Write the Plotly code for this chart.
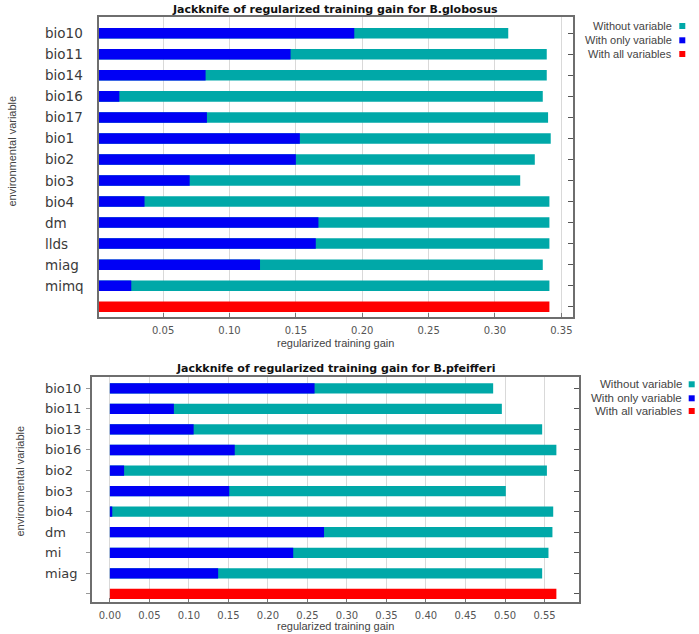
import plotly.graph_objects as go

# ---------------- data ----------------
top_vars = ['bio10', 'bio11', 'bio14', 'bio16', 'bio17', 'bio1', 'bio2',
            'bio3', 'bio4', 'dm', 'llds', 'miag', 'mimq']
top_without = [0.310, 0.339, 0.339, 0.336, 0.340, 0.342, 0.330,
               0.319, 0.341, 0.341, 0.341, 0.336, 0.341]
top_only = [0.194, 0.146, 0.082, 0.017, 0.083, 0.153, 0.150,
            0.070, 0.036, 0.167, 0.165, 0.123, 0.026]
top_all = 0.341

bot_vars = ['bio10', 'bio11', 'bio13', 'bio16', 'bio2', 'bio3', 'bio4',
            'dm', 'mi', 'miag']
bot_without = [0.485, 0.496, 0.547, 0.565, 0.553, 0.501, 0.561, 0.560, 0.555, 0.547]
bot_only = [0.259, 0.081, 0.106, 0.158, 0.018, 0.151, 0.003, 0.271, 0.232, 0.137]
bot_all = 0.565

series_names = ['Without variable', 'With only variable', 'With all variables']
series_colors = ['#00A8A8', '#0000F5', '#FF0000']

top_title = 'Jackknife of regularized training gain for B.globosus'
bot_title = 'Jackknife of regularized training gain for B.pfeifferi'
x_title = 'regularized training gain'
y_title = 'environmental variable'

W, H = 699, 634
ALL = ' '  # label-less category for "all variables" bar

def px(x):
    return x / W

def py(y):
    return 1 - y / H

fig = go.Figure()

def add_chart(vars_, without, only, allv, xa, ya):
    cats = vars_ + [ALL]
    fig.add_trace(go.Bar(y=vars_, x=without, orientation='h', width=0.5,
                         marker=dict(color=series_colors[0], line=dict(width=0)),
                         name=series_names[0], xaxis=xa, yaxis=ya, showlegend=False))
    fig.add_trace(go.Bar(y=vars_, x=only, orientation='h', width=0.5,
                         marker=dict(color=series_colors[1], line=dict(width=0)),
                         name=series_names[1], xaxis=xa, yaxis=ya, showlegend=False))
    fig.add_trace(go.Bar(y=[ALL], x=[allv], orientation='h', width=0.5,
                         marker=dict(color=series_colors[2], line=dict(width=0)),
                         name=series_names[2], xaxis=xa, yaxis=ya, showlegend=False))
    return cats

top_cats = add_chart(top_vars, top_without, top_only, top_all, 'x', 'y')
bot_cats = add_chart(bot_vars, bot_without, bot_only, bot_all, 'x2', 'y3')

# invisible helper traces so the right-hand tick axes render
fig.add_trace(go.Scatter(y=top_cats, x=[None] * len(top_cats), mode='markers',
                         xaxis='x', yaxis='y2', showlegend=False, hoverinfo='skip'))
fig.add_trace(go.Scatter(y=bot_cats, x=[None] * len(bot_cats), mode='markers',
                         xaxis='x2', yaxis='y4', showlegend=False, hoverinfo='skip'))

# plot areas (pixels)
T = dict(l=99, r=573.3, t=17.3, b=316.7)
B = dict(l=91.7, r=579.3, t=376.7, b=601.7)

frame = dict(showline=True, linecolor='#6e6e6e', linewidth=1.5, mirror=True)
xcommon = dict(**frame, showgrid=True, gridcolor='#d9d9d9', gridwidth=1,
               ticks='inside', ticklen=4, tickcolor='#777', dtick=0.05, tick0=0,
               tickformat='.2f', zeroline=False, layer='below traces',
               tickfont=dict(family='DejaVu Sans', size=10, color='#555'),
               ticklabelstandoff=4)

top_range = [len(top_cats) - 1 + 0.475, -0.76]
bot_range = [len(bot_cats) - 1 + 0.38, -0.565]

fig.update_layout(
    width=W, height=H,
    margin=dict(l=0, r=0, t=0, b=0),
    paper_bgcolor='white', plot_bgcolor='white',
    barmode='overlay',
    font=dict(family='DejaVu Sans', color='#333'),
    xaxis=dict(domain=[px(T['l']), px(T['r'])], range=[0.0017, 0.359],
               anchor='y', **xcommon),
    yaxis=dict(domain=[py(T['b']), py(T['t'])], type='category',
               categoryorder='array', categoryarray=top_cats, range=top_range,
               showticklabels=False, ticks='', showgrid=False, anchor='x',
               layer='below traces', **frame),
    yaxis2=dict(overlaying='y', side='right', type='category',
                categoryorder='array', categoryarray=top_cats, range=top_range,
                showticklabels=False, ticks='inside', ticklen=5, tickcolor='#555',
                showgrid=False, showline=False, anchor='x'),
    xaxis2=dict(domain=[px(B['l']), px(B['r'])], range=[-0.023, 0.594],
                anchor='y3', **xcommon),
    yaxis3=dict(domain=[py(B['b']), py(B['t'])], type='category',
                categoryorder='array', categoryarray=bot_cats, range=bot_range,
                showticklabels=False, ticks='outside', ticklen=4, tickcolor='#999',
                showgrid=False, anchor='x2', **frame),
    yaxis4=dict(overlaying='y3', side='right', type='category',
                categoryorder='array', categoryarray=bot_cats, range=bot_range,
                showticklabels=False, ticks='inside', ticklen=5, tickcolor='#555',
                showgrid=False, showline=False, anchor='x2'),
)

ann = []
shapes = []

def chart_text(vars_, yref, label_x, label_size, title, title_y, center_x,
               xt_y, yt_x, yt_y, leg_right, leg_ys, sq_x, leg_size):
    for v in vars_:
        ann.append(dict(text=v, x=px(label_x), xref='paper', xanchor='left',
                        y=v, yref=yref, yanchor='middle', showarrow=False,
                        font=dict(family='DejaVu Sans', size=label_size, color='#3a3a3a')))
    ann.append(dict(text='<b>' + title + '</b>', x=px(center_x), xref='paper',
                    xanchor='center', y=py(title_y), yref='paper', yanchor='middle',
                    showarrow=False, font=dict(family='DejaVu Sans', size=11, color='#111')))
    ann.append(dict(text=x_title, x=px(center_x), xref='paper', xanchor='center',
                    y=py(xt_y), yref='paper', yanchor='middle', showarrow=False,
                    font=dict(family='Liberation Sans', size=11, color='#444')))
    ann.append(dict(text=y_title, x=px(yt_x), xref='paper', xanchor='center',
                    y=py(yt_y), yref='paper', yanchor='middle', showarrow=False,
                    textangle=-90,
                    font=dict(family='Liberation Sans', size=11, color='#444')))
    for name, col, ly in zip(series_names, series_colors, leg_ys):
        ann.append(dict(text=name, x=px(leg_right), xref='paper', xanchor='right',
                        y=py(ly), yref='paper', yanchor='middle', showarrow=False,
                        font=dict(family='Liberation Sans', size=leg_size, color='#444')))
        shapes.append(dict(type='rect', xref='paper', yref='paper',
                           x0=px(sq_x - 3), x1=px(sq_x + 3),
                           y0=py(ly + 3), y1=py(ly - 3),
                           fillcolor=col, line=dict(width=0)))

chart_text(top_vars, 'y', 43, 13.5, top_title, 9.5, 335, 343, 11.5, 151,
           674, [26, 40.3, 54], 682.3, 11)
chart_text(bot_vars, 'y3', 43.3, 13, bot_title, 368.3, 335, 626, 19.5, 481,
           684, [384.3, 398.3, 411], 691.7, 11.5)

fig.update_layout(annotations=ann, shapes=shapes)

fig.write_html('out.html',
               config={'displayModeBar': False},
               post_script="document.body.style.margin='0';document.body.style.overflow='hidden';")
